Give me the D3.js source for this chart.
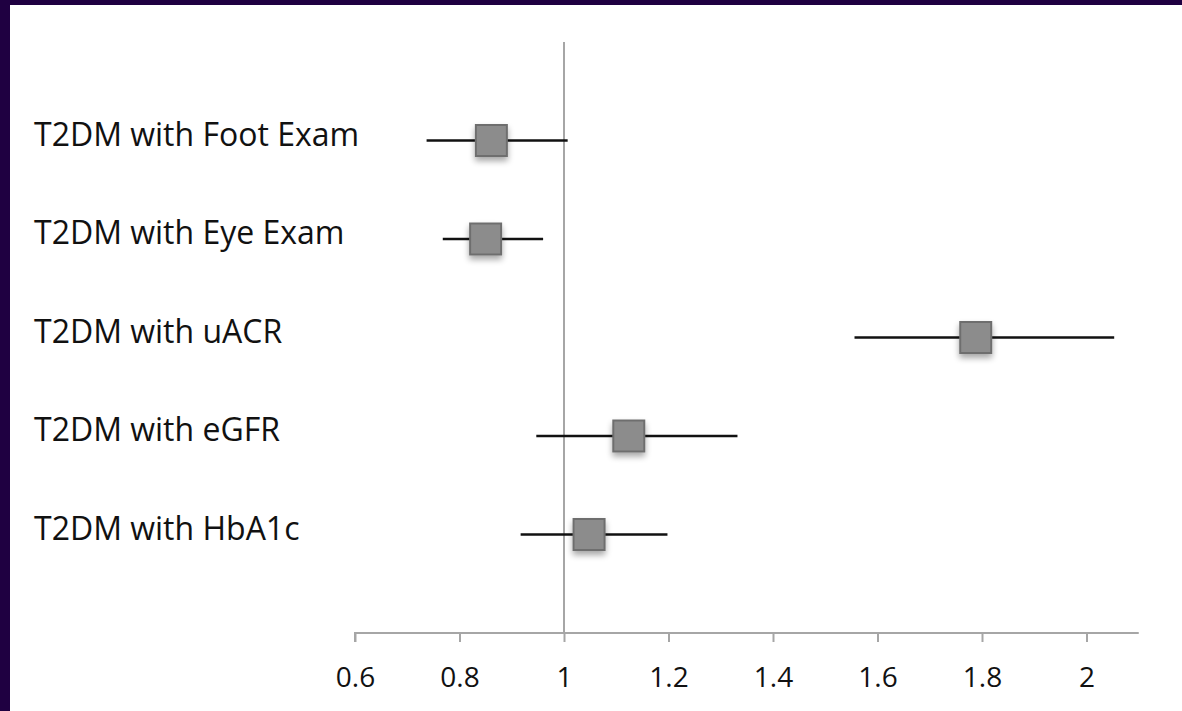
<!DOCTYPE html>
<html><head><meta charset="utf-8">
<script src="https://cdn.jsdelivr.net/npm/d3@7"></script>
<style>html,body{margin:0;padding:0;background:#1f0041;}svg{display:block;}</style>
</head><body>
<svg id="c" width="1182" height="711"></svg>
<script>
const categories = ["T2DM with Foot Exam","T2DM with Eye Exam","T2DM with uACR","T2DM with eGFR","T2DM with HbA1c"];
const estimates = [0.861, 0.850, 1.788, 1.124, 1.048];
const lower = [0.737, 0.768, 1.556, 0.947, 0.917];
const upper = [1.007, 0.960, 2.053, 1.332, 1.198];
const xTicks = [0.6, 0.8, 1, 1.2, 1.4, 1.6, 1.8, 2];

const svg = d3.select("#c");
svg.append("rect").attr("x",10).attr("y",5).attr("width",1172).attr("height",706).attr("fill","#fff");

const x = d3.scaleLinear().domain([0.6, 2.1]).range([355, 1138.75]);
const y = d3.scaleLinear().domain([0, 6]).range([633, 42]);

const defs = svg.append("defs");
const f = defs.append("filter").attr("id","sh").attr("x","-50%").attr("y","-50%").attr("width","200%").attr("height","200%");
f.append("feGaussianBlur").attr("in","SourceAlpha").attr("stdDeviation",3);
f.append("feOffset").attr("dx",0).attr("dy",4).attr("result","b");
f.append("feComponentTransfer").append("feFuncA").attr("type","linear").attr("slope",0.35);
const m = f.append("feMerge"); m.append("feMergeNode"); m.append("feMergeNode").attr("in","SourceGraphic");

// reference line at 1
svg.append("line").attr("x1",x(1)).attr("x2",x(1)).attr("y1",y(6)).attr("y2",y(0))
  .attr("stroke","#a6a6a6").attr("stroke-width",2);

// x axis
const ax = svg.append("g").attr("transform",`translate(0,${y(0)})`)
  .call(d3.axisBottom(x).tickValues(xTicks).tickSize(9).tickPadding(25).tickFormat(d3.format("~g")));
ax.select(".domain").attr("stroke","#a6a6a6").attr("stroke-width",2).attr("d",`M${x(0.6)},9V0H${x(2.1)}`);
ax.selectAll(".tick line").attr("stroke","#a6a6a6").attr("stroke-width",2);
ax.selectAll(".tick text").attr("fill","#111").attr("font-family","'Open Sans', sans-serif").attr("font-size",28);

const rows = categories.map((c,i)=>({c, est:estimates[i], lo:lower[i], hi:upper[i], pos:5-i}));

svg.selectAll(".ci").data(rows).join("line")
  .attr("x1",d=>x(d.lo)).attr("x2",d=>x(d.hi)).attr("y1",d=>y(d.pos)).attr("y2",d=>y(d.pos))
  .attr("stroke","#111").attr("stroke-width",2.5);

const s = 31;
svg.selectAll(".pt").data(rows).join("rect")
  .attr("x",d=>x(d.est)-s/2).attr("y",d=>y(d.pos)-s/2).attr("width",s).attr("height",s)
  .attr("fill","#8c8c8c").attr("stroke","#6e6e6e").attr("stroke-width",2).attr("filter","url(#sh)");

svg.selectAll(".lbl").data(rows).join("text")
  .attr("x",34).attr("y",d=>y(d.pos)+5)
  .attr("font-family","'Open Sans', sans-serif").attr("font-size",32).attr("font-weight",500).attr("fill","#111")
  .text(d=>d.c);
</script>
</body></html>
